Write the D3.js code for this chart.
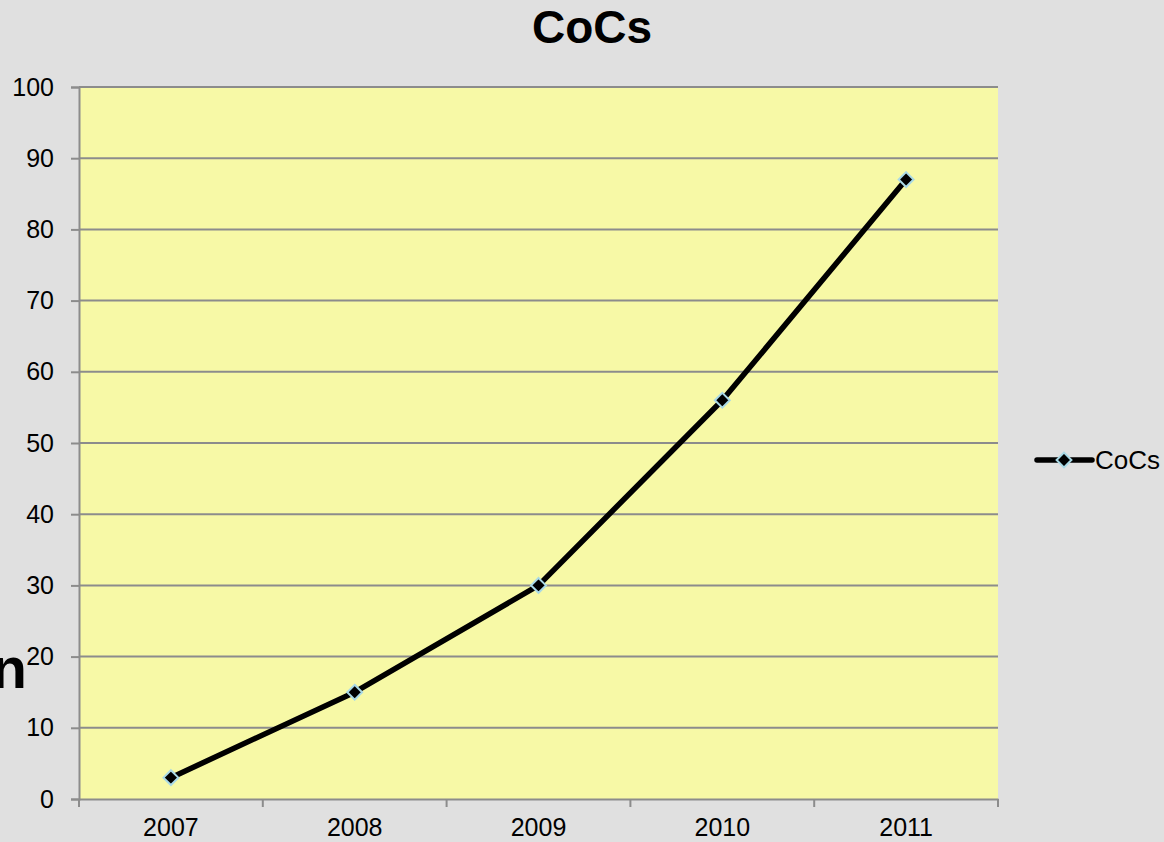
<!DOCTYPE html>
<html>
<head>
<meta charset="utf-8">
<script src="https://cdn.jsdelivr.net/npm/d3@7"></script>
<style>
  body { margin: 0; background: #e0e0e0; }
  svg { display: block; font-family: Arial, "Liberation Sans", sans-serif; }
</style>
</head>
<body>
<svg id="chart" width="1164" height="842"></svg>
<script>
// chart data
const years = ["2007", "2008", "2009", "2010", "2011"];
const cocs = [3, 15, 30, 56, 87];
const yTicks = [0, 10, 20, 30, 40, 50, 60, 70, 80, 90, 100];
const seriesName = "CoCs";

const margin = { top: 87, right: 166, bottom: 43, left: 79 },
    width = 1164 - margin.left - margin.right,
    height = 842 - margin.top - margin.bottom;

const svg = d3.select("#chart");
svg.append("rect").attr("width", 1164).attr("height", 842).attr("fill", "#e0e0e0");

const g = svg.append("g").attr("transform", `translate(${margin.left},${margin.top})`);

const x = d3.scaleBand().domain(years).range([0, width]);
const y = d3.scaleLinear().domain([0, 100]).range([height, 0]);

// plot area
g.append("rect").attr("width", width).attr("height", height).attr("fill", "#f7f9a6");

// gridlines
g.selectAll(".grid").data(yTicks.slice(1)).join("line")
    .attr("x1", 0).attr("x2", width)
    .attr("y1", d => y(d)).attr("y2", d => y(d))
    .attr("stroke", "#8c8c8c").attr("stroke-width", 2);

// Y axis
const yAxis = g.append("g")
    .call(d3.axisLeft(y).tickValues(yTicks).tickSize(8).tickPadding(17));
yAxis.select(".domain").attr("stroke", "#8c8c8c").attr("stroke-width", 2);
yAxis.selectAll(".tick line").attr("stroke", "#8c8c8c").attr("stroke-width", 2);
yAxis.selectAll("text").attr("font-size", 25).attr("fill", "#000")
    .attr("font-family", "Arial, 'Liberation Sans', sans-serif");

// X axis
const xAxis = g.append("g").attr("transform", `translate(0,${height})`)
    .call(d3.axisBottom(x).tickSize(0).tickPadding(19));
xAxis.select(".domain").attr("stroke", "#8c8c8c").attr("stroke-width", 2);
xAxis.selectAll("text").attr("font-size", 25).attr("fill", "#000")
    .attr("font-family", "Arial, 'Liberation Sans', sans-serif");
// tick marks between categories
const bounds = years.map(d => x(d)).concat([width]);
g.selectAll(".xtick").data(bounds).join("line")
    .attr("x1", d => d).attr("x2", d => d)
    .attr("y1", height).attr("y2", height + 8)
    .attr("stroke", "#8c8c8c").attr("stroke-width", 2);

// line
const line = d3.line()
    .x((d, i) => x(years[i]) + x.bandwidth() / 2)
    .y(d => y(d));
g.append("path").datum(cocs)
    .attr("d", line)
    .attr("fill", "none").attr("stroke", "#000").attr("stroke-width", 5.5)
    .attr("stroke-linejoin", "round");

const diamond = d3.symbol().type(d3.symbolDiamond2).size(140);
g.selectAll(".pt").data(cocs).join("path")
    .attr("transform", (d, i) => `translate(${x(years[i]) + x.bandwidth() / 2},${y(d)})`)
    .attr("d", diamond)
    .attr("fill", "#000").attr("stroke", "#a9d9e6").attr("stroke-width", 2);

// title
svg.append("text").attr("x", 592).attr("y", 43)
    .attr("text-anchor", "middle").attr("font-size", 46).attr("font-weight", "bold")
    .text(seriesName);

// cropped axis title fragment
svg.append("text").attr("x", 27).attr("y", 688)
    .attr("text-anchor", "end").attr("font-size", 58).attr("font-weight", "bold")
    .text("n");

// legend
const lg = svg.append("g").attr("transform", "translate(1037,460)");
lg.append("line").attr("x1", 0).attr("x2", 55).attr("y1", 0).attr("y2", 0)
    .attr("stroke", "#000").attr("stroke-width", 5.5).attr("stroke-linecap", "round");
lg.append("path").attr("transform", "translate(27,0)").attr("d", diamond)
    .attr("fill", "#000").attr("stroke", "#a9d9e6").attr("stroke-width", 2);
lg.append("text").attr("x", 58).attr("y", 9).attr("font-size", 26).text(seriesName);
</script>
</body>
</html>
